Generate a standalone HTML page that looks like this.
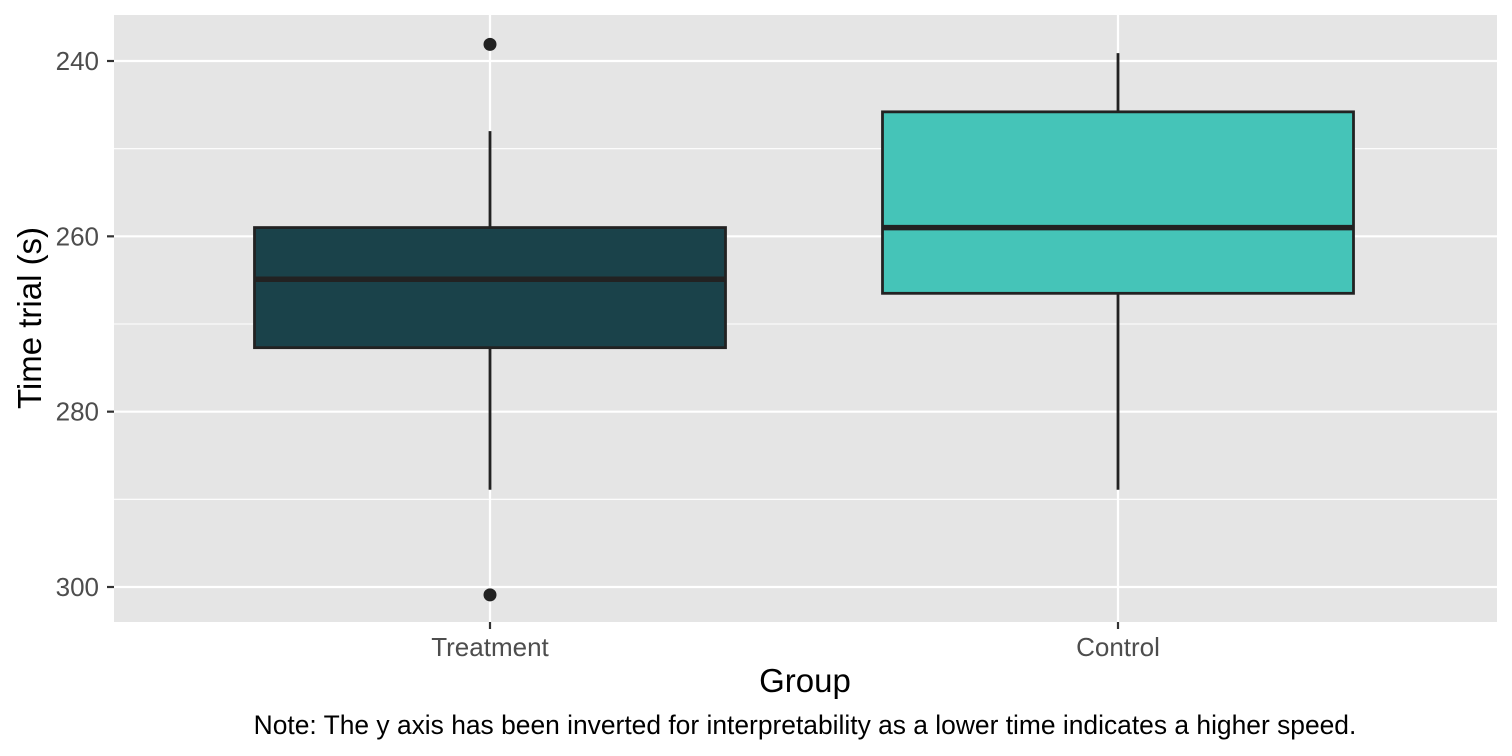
<!DOCTYPE html>
<html><head><meta charset="utf-8"><style>
body{margin:0;background:#fff;}
svg{display:block;font-family:"Liberation Sans",sans-serif;}
</style></head><body>
<svg id="chart" width="1512" height="756">
<rect x="114" y="15" width="1383" height="607" fill="#e5e5e5"/>
<g id="grid"></g><g id="boxes"></g><g id="axes"></g>
<text x="805" y="692" text-anchor="middle" font-size="33px" fill="#000">Group</text>
<text transform="translate(41,318) rotate(-90)" text-anchor="middle" font-size="33px" fill="#000">Time trial (s)</text>
<text x="805" y="734" text-anchor="middle" font-size="26.4px" fill="#000">Note: The y axis has been inverted for interpretability as a lower time indicates a higher speed.</text>
</svg>
<script>
const categories=["Treatment","Control"];
const colors=["#1a424a","#45c4b8"];
const whiskerLow=[248.0,239.1];
const q1=[259.0,245.8];
const median=[264.9,259.0];
const q3=[272.7,266.5];
const whiskerHigh=[288.9,288.9];
const outliers=[[238.1,300.9],[]];
const yTicks=[240,260,280,300];
const yMinor=[250,270,290];
const NS="http://www.w3.org/2000/svg";
function y(v){return 61+(v-240)*(526/60);}
function x(i){return 490+i*628;}
const bw=471;
function mk(tag,attrs,parent){const e=document.createElementNS(NS,tag);for(const k in attrs)e.setAttribute(k,attrs[k]);parent.appendChild(e);return e;}
const grid=document.getElementById('grid'),boxes=document.getElementById('boxes'),axes=document.getElementById('axes');
yMinor.forEach(v=>{const l=mk('line',{x1:114,x2:1497,y1:y(v),y2:y(v),stroke:'#fff','stroke-width':1.1},grid);

});
yTicks.forEach(v=>{const l=mk('line',{x1:114,x2:1497,y1:y(v),y2:y(v),stroke:'#fff','stroke-width':2.2},grid);


const t=mk('line',{x1:107,x2:114,y1:y(v),y2:y(v),stroke:'#333','stroke-width':2.2},axes);


const tx=mk('text',{x:99,y:y(v)+9,'text-anchor':'end','font-size':'26px',fill:'#4d4d4d'},axes);tx.textContent=v;

});
categories.forEach((c,i)=>{const cx=x(i);
const g=mk('line',{x1:cx,x2:cx,y1:15,y2:622,stroke:'#fff','stroke-width':2.2},grid);


const t=mk('line',{x1:cx,x2:cx,y1:622,y2:629,stroke:'#333','stroke-width':2.2},axes);


const tx=mk('text',{x:cx,y:656,'text-anchor':'middle','font-size':'26px',fill:'#4d4d4d'},axes);tx.textContent=c;


const w=mk('line',{x1:cx,x2:cx,y1:y(whiskerLow[i]),y2:y(whiskerHigh[i]),stroke:'#222','stroke-width':2.8},boxes);


const r=mk('rect',{x:cx-bw/2,y:y(q1[i]),width:bw,height:y(q3[i])-y(q1[i]),fill:colors[i],stroke:'#222','stroke-width':2.8},boxes);


const m=mk('line',{x1:cx-bw/2,x2:cx+bw/2,y1:y(median[i]),y2:y(median[i]),stroke:'#222','stroke-width':5.5},boxes);


outliers[i].forEach(o=>{const p=mk('circle',{cx:cx,cy:y(o),r:6.5,fill:'#222'},boxes);

});
});
</script>
</body></html>
